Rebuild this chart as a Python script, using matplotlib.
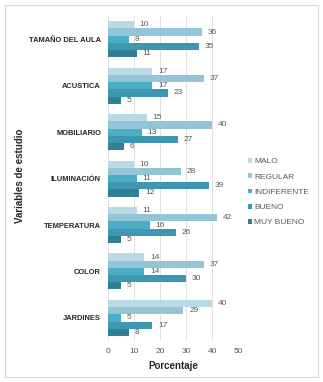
import matplotlib.pyplot as plt
import numpy as np
from matplotlib.patches import Rectangle

plt.rcParams['font.family'] = ['Liberation Sans', 'DejaVu Sans']

categories = ['TAMAÑO DEL AULA', 'ACUSTICA', 'MOBILIARIO', 'ILUMINACIÓN',
              'TEMPERATURA', 'COLOR', 'JARDINES']
series = ['MALO', 'REGULAR', 'INDIFERENTE', 'BUENO', 'MUY BUENO']
malo = [10, 17, 15, 10, 11, 14, 40]
regular = [36, 37, 40, 28, 42, 37, 29]
indiferente = [8, 17, 13, 11, 16, 14, 5]
bueno = [35, 23, 27, 39, 26, 30, 17]
muy_bueno = [11, 5, 6, 12, 5, 5, 8]
colors = ['#b9d9e5', '#93c5d7', '#4bacc6', '#3e97b0', '#327f94']

values = [malo, regular, indiferente, bueno, muy_bueno]

fig = plt.figure(figsize=(3.23, 3.82), dpi=100)
fig.patches.append(Rectangle((5 / 323, 5 / 382), 313 / 323, 372 / 382,
                             transform=fig.transFigure, fill=False,
                             edgecolor='#d9d9d9', linewidth=0.8))
ax = fig.add_axes([0.334, 0.107, 0.403, 0.851])

h = 0.155
y = np.arange(len(categories))
for i, (name, vals) in enumerate(zip(series, values)):
    pos = y + (i - 2) * h
    ax.barh(pos, vals, height=h, color=colors[i], label=name, zorder=2)
    for p, v in zip(pos, vals):
        ax.text(v + 2.2, p, str(v), va='center', ha='left',
                fontsize=6, color='#595959')

ax.set_ylim(len(categories) - 0.5, -0.5)
ax.set_xlim(0, 50)
ax.set_xticks([0, 10, 20, 30, 40, 50])
ax.set_yticks(y)
ax.set_yticklabels(categories, fontsize=5.4, fontweight='bold', color='#262626')
ax.tick_params(axis='x', labelsize=6, colors='#595959', length=0, pad=5)
ax.tick_params(axis='y', length=0, pad=5)
ax.grid(axis='x', color='#e0e0e0', linewidth=0.7, zorder=0)
for s in ax.spines.values():
    s.set_visible(False)

ax.set_xlabel('Porcentaje', fontsize=7, fontweight='bold', color='#262626', labelpad=4)
fig.text(0.062, 0.54, 'Variables de estudio', rotation=90, fontsize=7,
         fontweight='bold', color='#262626', ha='center', va='center')

ax.legend(loc='center left', bbox_to_anchor=(1.02, 0.458), frameon=False,
          fontsize=6, handlelength=0.5, handleheight=0.5, handletextpad=0.25,
          labelspacing=0.95, labelcolor='#595959')

fig.savefig('out.png', dpi=100)
